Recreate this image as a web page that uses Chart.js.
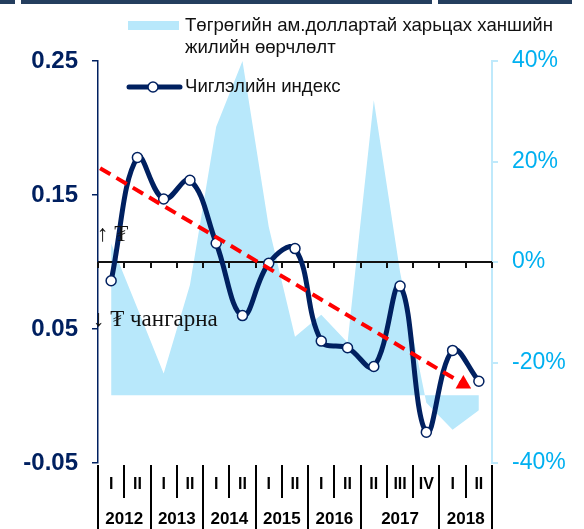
<!DOCTYPE html>
<html><head><meta charset="utf-8">
<script src="https://cdn.jsdelivr.net/npm/chart.js@4.4.1/dist/chart.umd.min.js"></script>
<style>html,body{margin:0;padding:0;background:#fff;} #wrap{position:relative;width:584px;height:529px;}</style>
</head><body><div id="wrap"><canvas id="c" width="584" height="529"></canvas></div>
<script>
// ---- data ----
const quarterLabels = ['I','II','I','II','I','II','I','II','I','II','II','III','IV','I','II'];
const yearLabels = ['2012','2013','2014','2015','2016','2017','2018'];
const yearSpans = [2,2,2,2,2,3,2];
const indexValues = [0.086,0.178,0.147,0.161,0.114,0.060,0.099,0.110,0.041,0.036,0.022,0.082,-0.027,0.034,0.011];
const rateChange = [3.7,-9.2,-22.2,-4.6,26.9,40.0,7.0,-14.9,-10.5,-16.0,32.2,-2.0,-28.0,-33.4,-29.5];
const trendX = [-0.42, 13.41];
const trendY = [0.170, 0.009];
const leftTicks = [-0.05,0.05,0.15,0.25];
const rightTicks = [-40,-20,0,20,40];
const areaBase = -26.5;
const indexBaseline = 0.10;
const legendArea = ['Төгрөгийн ам.доллартай харьцах ханшийн','жилийн өөрчлөлт'];
const legendLine = 'Чиглэлийн индекс';
const noteUp = '↑ ₮';
const noteDown = '↓ ₮ чангарна';

// ---- style ----
const NAVY='#002060', SKY='#00b0f0', AREA='#b8e8fb', RED='#ff0000', BAR='#243e5e';
const SANS='"Liberation Sans", Arial, sans-serif';
const SERIF='"Liberation Serif", "DejaVu Serif", serif';

const custom = {
  id:'custom',
  beforeDraw(chart){
    const c=chart.ctx; c.save(); c.fillStyle=BAR;
    c.fillRect(0,0,15,4); c.fillRect(21,0,411,4); c.fillRect(438,0,134,4);
    c.restore();
  },
  afterDatasetDraw(chart,args){
    if(args.index!==0) return;
    const c=chart.ctx, x=chart.scales.x, y=chart.scales.y, a=chart.chartArea;
    const yy=Math.round(y.getPixelForValue(indexBaseline));
    c.save(); c.strokeStyle='#111'; c.lineWidth=2;
    c.beginPath(); c.moveTo(a.left,yy); c.lineTo(a.right,yy); c.stroke();
    for(let i=0;i<=quarterLabels.length;i++){
      const px=Math.round(x.getPixelForValue(i-0.5));
      c.beginPath(); c.moveTo(px,yy); c.lineTo(px,yy+6); c.stroke();
    }
    c.restore();
  },
  afterDraw(chart){
    const c=chart.ctx, x=chart.scales.x;
    c.save();
    // legend
    c.fillStyle=AREA; c.fillRect(128,21,51,9);
    c.fillStyle='#111'; c.font='18.6px '+SANS; c.textBaseline='middle'; c.textAlign='left';
    c.fillText(legendArea[0],185,26);
    c.fillText(legendArea[1],185,48);
    c.fillText(legendLine,185,87);
    c.strokeStyle=NAVY; c.lineWidth=5; c.lineCap='round';
    c.beginPath(); c.moveTo(129,87); c.lineTo(180,87); c.stroke();
    c.lineCap='butt';
    c.fillStyle='#fff'; c.lineWidth=1.5;
    c.beginPath(); c.arc(153,87,5,0,Math.PI*2); c.fill(); c.stroke();
    // notes
    c.fillStyle='#111'; c.font='23px '+SERIF;
    c.fillText(noteUp,97,235);
    c.fillText(noteDown,93,320);
    // bottom category labels
    c.fillStyle='#000'; c.textAlign='center';
    c.font='bold 16px '+SANS;
    quarterLabels.forEach((q,i)=>c.fillText(q,x.getPixelForValue(i),485));
    c.font='bold 17px '+SANS;
    c.strokeStyle='#000'; c.lineWidth=2;
    let start=0;
    const tall=[start-0.5];
    yearLabels.forEach((yl,k)=>{
      const end=start+yearSpans[k];
      c.fillText(yl,x.getPixelForValue((start+end-1)/2),519);
      for(let j=start+1;j<end;j++){
        const px=Math.round(x.getPixelForValue(j-0.5));
        c.beginPath(); c.moveTo(px,465); c.lineTo(px,498); c.stroke();
      }
      tall.push(end-0.5);
      start=end;
    });
    tall.forEach(b=>{
      const px=Math.round(x.getPixelForValue(b));
      c.beginPath(); c.moveTo(px,465); c.lineTo(px,529); c.stroke();
    });
    c.restore();
  }
};

new Chart(document.getElementById('c'), {
  type:'line',
  data:{ datasets:[
    {label:'area', data: rateChange.map((v,i)=>({x:i,y:v})), yAxisID:'y2', fill:{value:areaBase},
     backgroundColor:AREA, borderWidth:0, pointRadius:0, tension:0, order:3},
    {label:'index', data: indexValues.map((v,i)=>({x:i,y:v})), yAxisID:'y', borderColor:NAVY, borderWidth:5,
     tension:0.4, pointRadius:5, pointBackgroundColor:'#fff', pointBorderColor:NAVY, pointBorderWidth:1.5, order:2},
    {label:'trend', data: trendX.map((v,i)=>({x:v,y:trendY[i]})), yAxisID:'y', borderColor:RED, borderWidth:4,
     borderDash:[12,7], pointStyle:'triangle', pointRadius:[0,9], pointBackgroundColor:RED, pointBorderColor:RED,
     pointBorderWidth:0, tension:0, order:1}
  ]},
  options:{
    responsive:false, animation:false,
    layout:{padding:{top:61,bottom:66,left:0,right:0}},
    plugins:{legend:{display:false}, tooltip:{enabled:false}},
    scales:{
      x:{type:'linear', min:-0.5, max:14.5, display:false},
      y:{position:'left', min:-0.05, max:0.25,
         afterBuildTicks:s=>{s.ticks=leftTicks.map(v=>({value:v}));},
         afterFit:s=>{s.width=98;},
         border:{color:NAVY,width:1.5},
         grid:{drawOnChartArea:false,color:NAVY,tickLength:6,lineWidth:1.5},
         ticks:{color:NAVY,font:{family:SANS,size:24,weight:'bold'},padding:14,callback:v=>Number(v).toFixed(2)}},
      y2:{position:'right', min:-40, max:40,
         afterBuildTicks:s=>{s.ticks=rightTicks.map(v=>({value:v}));},
         afterFit:s=>{s.width=92;},
         border:{color:'#bfe9fb',width:2},
         grid:{drawOnChartArea:false,color:'#bfe9fb',tickLength:6,lineWidth:2},
         ticks:{color:SKY,font:{family:SANS,size:23},padding:14,callback:v=>v+'%'}}
    }
  },
  plugins:[custom]
});
</script></body></html>
